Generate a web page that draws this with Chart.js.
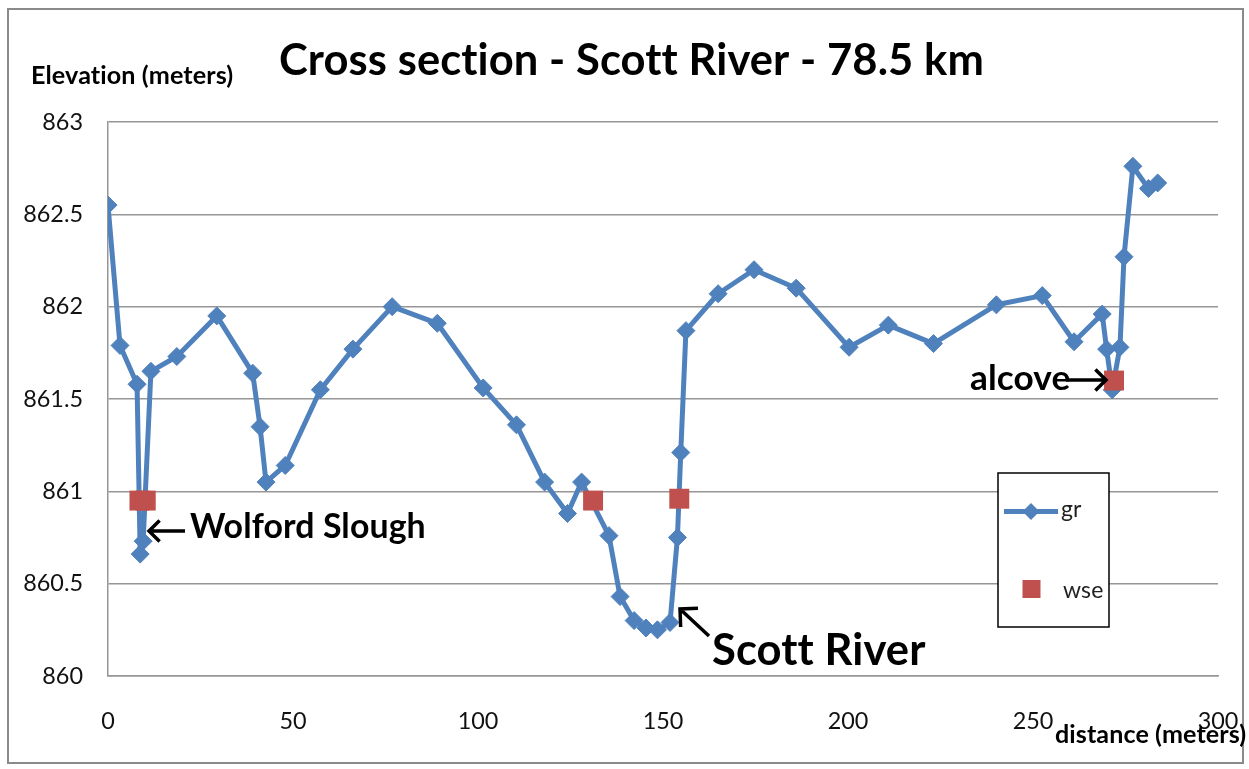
<!DOCTYPE html>
<html>
<head>
<meta charset="utf-8">
<script src="https://cdn.jsdelivr.net/npm/chart.js@4/dist/chart.umd.min.js"></script>
<style>
  html, body { margin: 0; padding: 0; background: #ffffff; }
  #wrap { width: 1249px; height: 769px; position: relative; }
</style>
</head>
<body>
<div id="wrap"><canvas id="c" width="1249" height="769"></canvas></div>
<script>
// ---- data ----
const grDistance = [0, 3.25, 7.85, 8.7, 9.5, 11.6, 18.6, 29.4, 39.1, 41.1, 42.7, 47.9, 57.4, 66.2, 76.8, 89.0, 101.4, 110.4, 118.0, 124.2, 128.0, 135.4, 138.4, 142.2, 145.4, 148.5, 151.9, 153.9, 154.8, 156.2, 164.9, 174.6, 186.0, 200.3, 210.9, 223.1, 240.1, 252.5, 261.1, 268.7, 269.9, 271.4, 273.5, 274.6, 277.0, 281.2, 283.7];
const grElevation = [862.55, 861.79, 861.58, 860.66, 860.73, 861.65, 861.73, 861.95, 861.64, 861.35, 861.05, 861.14, 861.55, 861.77, 862.0, 861.91, 861.56, 861.36, 861.05, 860.88, 861.05, 860.76, 860.43, 860.30, 860.26, 860.25, 860.29, 860.75, 861.21, 861.87, 862.07, 862.2, 862.1, 861.78, 861.9, 861.8, 862.01, 862.06, 861.81, 861.96, 861.77, 861.55, 861.78, 862.27, 862.76, 862.64, 862.67];
const wseDistance = [8.5, 10.2, 131.1, 154.4, 271.9];
const wseElevation = [860.95, 860.95, 860.95, 860.96, 861.60];
const xTicks = [0, 50, 100, 150, 200, 250, 300];
const yTicks = [860, 860.5, 861, 861.5, 862, 862.5, 863];
const seriesNames = ['gr', 'wse'];
const titleText = 'Cross section - Scott River - 78.5 km';
const yAxisTitle = 'Elevation (meters)';
const xAxisTitle = 'distance (meters)';
const notes = ['Wolford Slough', 'Scott River', 'alcove'];

// ---- styling helpers ----
const BLUE = '#4F81BD';
const RED = '#C0504D';
const GRID = '#969696';
const FAMILY = 'Lato, "Open Sans", "Liberation Sans", sans-serif';
const mctx = document.createElement('canvas').getContext('2d');
try { mctx.letterSpacing = '0.1px'; } catch (e) {}
function fit(text, weight, width) {
  mctx.font = weight + ' 100px ' + FAMILY;
  return 100 * width / mctx.measureText(text).width;
}
const tickSize = Math.min(fit('861.5', 'normal', 60), 24);

const grData = grDistance.map((x, i) => ({ x: x, y: grElevation[i] }));
const wseData = wseDistance.map((x, i) => ({ x: x, y: wseElevation[i] }));

function arrow(ctx, x1, y1, x2, y2, head) {
  const a = Math.atan2(y2 - y1, x2 - x1);
  ctx.beginPath();
  ctx.moveTo(x1, y1); ctx.lineTo(x2, y2);
  ctx.moveTo(x2 - head * Math.cos(a - Math.PI / 4), y2 - head * Math.sin(a - Math.PI / 4));
  ctx.lineTo(x2, y2);
  ctx.lineTo(x2 - head * Math.cos(a + Math.PI / 4), y2 - head * Math.sin(a + Math.PI / 4));
  ctx.stroke();
}

const overlay = {
  id: 'overlay',
  afterDraw(chart) {
    const ctx = chart.ctx;
    ctx.save();
    try { ctx.letterSpacing = '0.1px'; } catch (e) {}
    // outer frame
    ctx.strokeStyle = '#8a8a8a';
    ctx.lineWidth = 2;
    ctx.strokeRect(8, 9, 1235, 754);

    ctx.fillStyle = '#000';
    ctx.textBaseline = 'alphabetic';
    let s = fit(titleText, 'bold', 703);
    ctx.font = 'bold ' + s + 'px ' + FAMILY;
    ctx.textAlign = 'center';
    ctx.fillText(titleText, 631.5, 75);
    ctx.textAlign = 'left';
    s = fit(yAxisTitle, 'bold', 201);
    ctx.font = 'bold ' + s + 'px ' + FAMILY;
    ctx.fillText(yAxisTitle, 31, 84);
    s = fit(xAxisTitle, 'bold', 190);
    ctx.font = 'bold ' + s + 'px ' + FAMILY;
    ctx.fillText(xAxisTitle, 1055, 743);

    s = fit(notes[0], 'bold', 235);
    ctx.font = 'bold ' + s + 'px ' + FAMILY;
    ctx.fillText(notes[0], 190, 538);
    s = fit(notes[1], 'bold', 213);
    ctx.font = 'bold ' + s + 'px ' + FAMILY;
    ctx.fillText(notes[1], 712, 665);
    s = fit(notes[2], 'bold', 100);
    ctx.font = 'bold ' + s + 'px ' + FAMILY;
    ctx.fillText(notes[2], 970, 390);

    ctx.strokeStyle = '#000';
    ctx.lineWidth = 3.5;
    ctx.lineCap = 'butt';
    ctx.lineJoin = 'miter';
    arrow(ctx, 185, 531, 149, 531, 15);
    arrow(ctx, 709, 636, 680, 609, 18);
    arrow(ctx, 1066, 380, 1106, 380, 15);

    // legend
    ctx.fillStyle = '#fff';
    ctx.fillRect(998, 473, 111, 154);
    ctx.strokeStyle = '#000';
    ctx.lineWidth = 1.5;
    ctx.strokeRect(998, 473, 111, 154);
    ctx.strokeStyle = BLUE;
    ctx.lineWidth = 5;
    ctx.beginPath(); ctx.moveTo(1004, 511.5); ctx.lineTo(1058, 511.5); ctx.stroke();
    ctx.fillStyle = BLUE;
    ctx.beginPath();
    ctx.moveTo(1031, 503); ctx.lineTo(1039.5, 511.5); ctx.lineTo(1031, 520); ctx.lineTo(1022.5, 511.5);
    ctx.closePath(); ctx.fill();
    ctx.fillStyle = RED;
    ctx.fillRect(1022.5, 580, 18, 18);
    ctx.fillStyle = '#222';
    ctx.font = 'normal 23px ' + FAMILY;
    ctx.textBaseline = 'middle';
    ctx.fillText(seriesNames[0], 1061, 510);
    ctx.fillText(seriesNames[1], 1063, 591);
    ctx.restore();
  }
};

new Chart(document.getElementById('c'), {
  type: 'scatter',
  data: {
    datasets: [
      {
        label: seriesNames[1],
        data: wseData,
        order: 0,
        showLine: false,
        pointStyle: 'rect',
        pointRadius: 14.1,
        pointHoverRadius: 14.1,
        backgroundColor: RED,
        borderColor: RED,
        borderWidth: 0
      },
      {
        label: seriesNames[0],
        data: grData,
        order: 1,
        showLine: true,
        tension: 0,
        borderColor: BLUE,
        borderWidth: 5,
        borderJoinStyle: 'round',
        borderCapStyle: 'round',
        pointStyle: 'rectRot',
        pointRadius: 9,
        pointHoverRadius: 9,
        pointBackgroundColor: BLUE,
        pointBorderColor: BLUE,
        pointBorderWidth: 1
      }
    ]
  },
  options: {
    responsive: false,
    animation: false,
    events: [],
    layout: { padding: { left: 0, top: 122, right: 31, bottom: 0 } },
    plugins: {
      legend: { display: false },
      title: { display: false },
      tooltip: { enabled: false }
    },
    scales: {
      x: {
        type: 'linear',
        min: 0, max: 300,
        afterBuildTicks: (scale) => { scale.ticks = xTicks.map(v => ({ value: v })); },
        afterFit: (scale) => { scale.height = 93; scale.paddingLeft = 0; scale.paddingRight = 0; },
        grid: { display: false, drawTicks: false },
        border: { display: true, color: GRID, width: 1.5 },
        ticks: {
          padding: 31,
          maxRotation: 0,
          color: '#111',
          font: { family: FAMILY, size: tickSize }
        }
      },
      y: {
        type: 'linear',
        min: 860, max: 863,
        afterBuildTicks: (scale) => { scale.ticks = yTicks.map(v => ({ value: v })); },
        afterFit: (scale) => { scale.width = 108; scale.paddingTop = 0; scale.paddingBottom = 0; },
        grid: { display: true, color: GRID, lineWidth: 1.5, drawTicks: false },
        border: { display: true, color: GRID, width: 1.5 },
        ticks: {
          padding: 25,
          color: '#111',
          font: { family: FAMILY, size: tickSize },
          callback: (v) => String(v)
        }
      }
    }
  },
  plugins: [overlay]
});
</script>
</body>
</html>
